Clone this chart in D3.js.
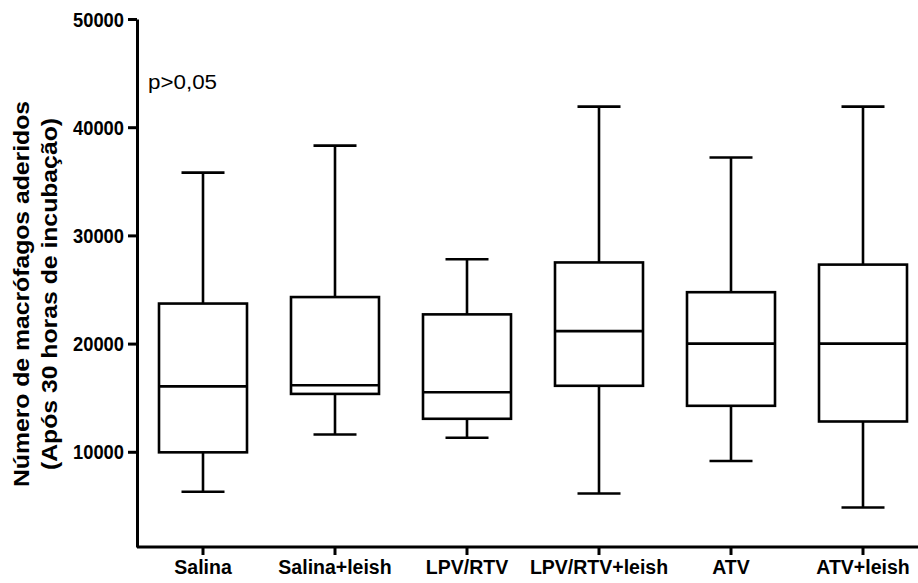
<!DOCTYPE html>
<html>
<head>
<meta charset="utf-8">
<script src="https://cdn.jsdelivr.net/npm/d3@7"></script>
<style>
  body { margin: 0; background: #fff; }
  svg text { font-family: "Liberation Sans", Arial, sans-serif; }
</style>
</head>
<body>
<div id="main"></div>
<script>
// grupos e valores
var groups = ["Salina", "Salina+leish", "LPV/RTV", "LPV/RTV+leish", "ATV", "ATV+leish"];
var mins    = [6300, 11600, 11300, 6150, 9150, 4850];
var q1s     = [9950, 15350, 13050, 16100, 14250, 12800];
var medians = [16050, 16150, 15500, 21150, 20000, 20000];
var q3s     = [23700, 24300, 22700, 27500, 24750, 27300];
var maxs    = [35800, 38300, 27800, 41900, 37200, 41900];
var yTicks  = [10000, 20000, 30000, 40000, 50000];

var width = 918, height = 583;
var left = 137, bottom = 547;

var svg = d3.select("#main").append("svg")
  .attr("width", width)
  .attr("height", height);

var x = d3.scaleBand()
  .domain(groups)
  .range([left, left + 6 * 132]);

var y = d3.scaleLinear()
  .domain([1200, 50000])
  .range([bottom, 19]);

var boxW = 88, capW = 43;

var data = groups.map(function(g, i) {
  return { name: g, min: mins[i], q1: q1s[i], med: medians[i], q3: q3s[i], max: maxs[i] };
});

var box = svg.selectAll(".box")
  .data(data)
  .enter().append("g")
  .attr("class", "box")
  .attr("transform", function(d) {
    return "translate(" + (x(d.name) + x.bandwidth() / 2) + ",0)";
  })
  .style("stroke", "#000")
  .style("stroke-width", 2.6)
  .style("fill", "none");

// whiskers
box.append("line")
  .attr("x1", 0).attr("x2", 0)
  .attr("y1", function(d) { return y(d.max); })
  .attr("y2", function(d) { return y(d.q3); });
box.append("line")
  .attr("x1", 0).attr("x2", 0)
  .attr("y1", function(d) { return y(d.q1); })
  .attr("y2", function(d) { return y(d.min); });
box.append("line")
  .attr("x1", -capW / 2).attr("x2", capW / 2)
  .attr("y1", function(d) { return y(d.max); })
  .attr("y2", function(d) { return y(d.max); });
box.append("line")
  .attr("x1", -capW / 2).attr("x2", capW / 2)
  .attr("y1", function(d) { return y(d.min); })
  .attr("y2", function(d) { return y(d.min); });

// caixa e mediana
box.append("rect")
  .attr("x", -boxW / 2)
  .attr("width", boxW)
  .attr("y", function(d) { return y(d.q3); })
  .attr("height", function(d) { return y(d.q1) - y(d.q3); })
  .style("fill", "#fff");
box.append("line")
  .attr("x1", -boxW / 2).attr("x2", boxW / 2)
  .attr("y1", function(d) { return y(d.med); })
  .attr("y2", function(d) { return y(d.med); });

// eixos
var yAxis = svg.append("g")
  .attr("transform", "translate(" + left + ",0)")
  .call(d3.axisLeft(y).tickValues(yTicks).tickSize(9).tickSizeOuter(0).tickFormat(d3.format("d")));

var xAxis = svg.append("g")
  .attr("transform", "translate(0," + bottom + ")")
  .call(d3.axisBottom(x).tickSize(8).tickSizeOuter(0));

xAxis.select(".domain").attr("d", "M" + left + ",0H" + width);

[yAxis, xAxis].forEach(function(a) {
  a.select(".domain").style("stroke", "#000").style("stroke-width", 3);
  a.selectAll(".tick line").style("stroke", "#000").style("stroke-width", 3);
  a.selectAll(".tick text")
    .style("font-family", "'Liberation Sans', Arial, sans-serif")
    .style("font-weight", "bold")
    .style("fill", "#000");
});
yAxis.selectAll(".tick text")
  .style("font-size", "19.5px")
  .attr("x", -13).attr("dy", "0.36em")
  .attr("textLength", 51).attr("lengthAdjust", "spacingAndGlyphs");
xAxis.selectAll(".tick text")
  .style("font-size", "19.5px")
  .attr("y", 27).attr("dy", 0);

// título do eixo y
var title = svg.append("text")
  .attr("transform", "translate(0,294) rotate(-90)")
  .attr("text-anchor", "middle")
  .style("font-size", "22px")
  .style("font-weight", "bold");
title.append("tspan").attr("x", 0).attr("y", 29)
  .attr("textLength", 386).attr("lengthAdjust", "spacingAndGlyphs")
  .text("Número de macrófagos aderidos");
title.append("tspan").attr("x", 0).attr("y", 57)
  .attr("textLength", 352).attr("lengthAdjust", "spacingAndGlyphs")
  .text("(Após 30 horas de incubação)");

svg.append("text")
  .attr("x", 148)
  .attr("y", 88.5)
  .style("font-size", "20px")
  .attr("textLength", 69).attr("lengthAdjust", "spacingAndGlyphs")
  .text("p>0,05");
</script>
</body>
</html>
